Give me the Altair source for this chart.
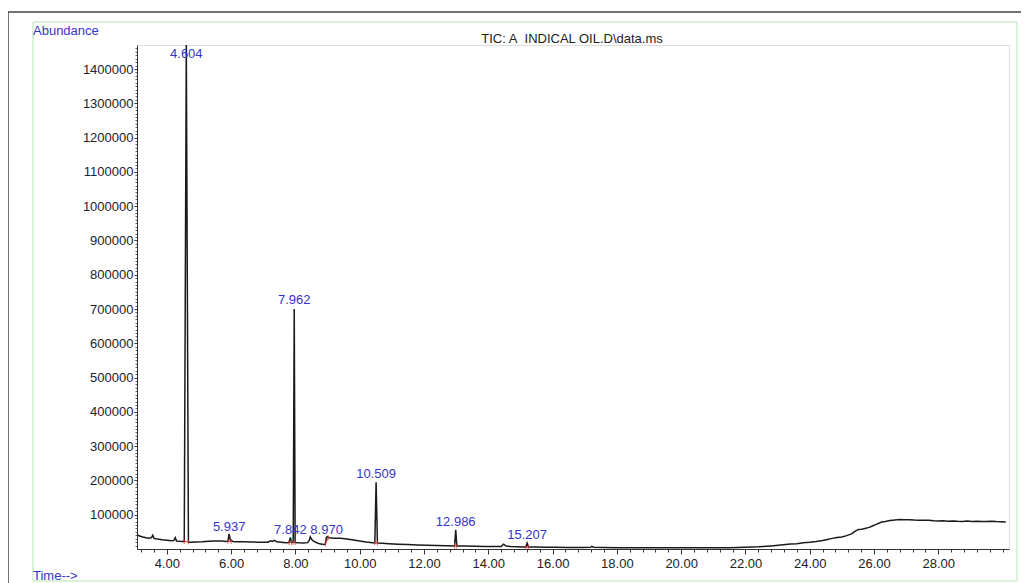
import altair as alt
import pandas as pd

# ---- chromatogram trace (retention time in min, abundance) ----
time_min = [3.07, 3.15, 3.25, 3.35, 3.45, 3.52, 3.56, 3.60, 3.70, 3.85, 4.00, 4.15, 4.22, 4.26, 4.30,
            4.40, 4.50, 4.54, 4.604, 4.67, 4.75, 4.90, 5.10, 5.30, 5.50, 5.70, 5.85, 5.90, 5.937, 5.97,
            6.05, 6.20, 6.40, 6.60, 6.80, 7.00, 7.15, 7.22, 7.28, 7.35, 7.42, 7.55, 7.70, 7.80, 7.842,
            7.88, 7.93, 7.962, 7.99, 8.10, 8.25, 8.38, 8.43, 8.46, 8.50, 8.56, 8.65, 8.75, 8.88, 8.93,
            8.96, 8.99, 9.05, 9.20, 9.40, 9.60, 9.80, 10.00, 10.20, 10.40, 10.47, 10.509, 10.55, 10.70,
            10.90, 11.20, 11.50, 11.80, 12.10, 12.40, 12.70, 12.95, 12.986, 13.02, 13.30, 13.60, 13.90,
            14.20, 14.40, 14.47, 14.55, 14.70, 14.90, 15.10, 15.17, 15.207, 15.25, 15.50, 15.80, 16.10,
            16.50, 16.90, 17.18, 17.22, 17.28, 17.60, 18.00, 18.50, 19.00, 19.50, 20.00, 20.50, 21.00,
            21.50, 22.00, 22.40, 22.80, 23.10, 23.40, 23.60, 23.80, 24.00, 24.20, 24.40, 24.55, 24.70,
            24.85, 25.00, 25.15, 25.30, 25.42, 25.52, 25.62, 25.72, 25.85, 25.95, 26.05, 26.15, 26.24,
            26.35, 26.50, 26.65, 26.80, 26.95, 27.10, 27.25, 27.40, 27.55, 27.70, 27.85, 28.00, 28.15,
            28.30, 28.45, 28.60, 28.75, 28.90, 29.05, 29.20, 29.35, 29.50, 29.65, 29.80, 29.95, 30.10]
abundance = [42000, 38000, 35000, 33000, 31500, 33000, 40000, 31000, 29000, 27000, 25500, 24000, 25000,
             33000, 23500, 22500, 22000, 22000, 1470000, 20500, 20000, 20500, 21000, 22500, 23500, 23000,
             22000, 23000, 44000, 27000, 22000, 21500, 21000, 20500, 20000, 19500, 20000, 24000, 22000,
             25000, 21000, 20000, 18500, 19000, 34000, 19000, 19500, 700000, 19000, 18000, 17500, 18500,
             26000, 35000, 28000, 23000, 19000, 15000, 13500, 14500, 33000, 36000, 33000, 31500, 31000,
             29000, 26000, 23000, 20500, 18500, 18000, 195000, 17500, 16500, 15500, 14000, 13000, 12000,
             11000, 10000, 9500, 9000, 56000, 9000, 8500, 8000, 7500, 7000, 7500, 14000, 9000, 7000, 6500,
             6000, 6000, 17000, 5500, 5500, 5000, 5000, 4500, 4500, 5000, 7500, 5000, 4500, 4000, 4000,
             3500, 3500, 3500, 3500, 3500, 4000, 5000, 6500, 9000, 11500, 14500, 15500, 18000, 19500,
             22000, 25000, 28000, 31000, 33500, 35000, 39000, 44000, 52000, 57000, 57500, 60000, 63000,
             67000, 71000, 75000, 79000, 80500, 83000, 84500, 86000, 85000, 85500, 84500, 84000, 83500,
             84000, 82500, 81500, 82500, 81000, 82000, 81000, 80500, 81500, 80500, 81000, 80000, 80500,
             81000, 80000, 79500, 78500]

# ---- labelled peaks ----
peak_rt = [4.604, 5.937, 7.842, 7.962, 8.970, 10.509, 12.986, 15.207]
peak_label = ["4.604", "5.937", "7.842", "7.962", "8.970", "10.509", "12.986", "15.207"]
label_abund = [1444000, 65000, 54000, 727000, 56000, 219500, 79600, 41700]

# ---- integration marks (red) ----
int_start = [4.54, 5.90, 7.80, 7.93, 8.93, 10.47, 12.95, 15.17]
int_end = [4.67, 6.00, 7.88, 7.99, 9.02, 10.55, 13.02, 15.25]
int_base_start = [22000, 22000, 19000, 19500, 14500, 18000, 9000, 6000]
int_base_end = [20500, 22000, 19000, 19000, 33000, 17500, 9000, 5500]

# ---- axis ticks ----
x_major = [4, 6, 8, 10, 12, 14, 16, 18, 20, 22, 24, 26, 28]
y_major = [100000, 200000, 300000, 400000, 500000, 600000, 700000, 800000, 900000,
           1000000, 1100000, 1200000, 1300000, 1400000]
x_minor = [round(3.2 + 0.4 * i, 2) for i in range(68)]
y_minor = [10000 * i for i in range(1, 147)]

title_text = "TIC: A\u00a0 INDICAL OIL.D\\data.ms"

FONT = "Liberation Sans"
BLUE = "#3535c8"

trace_df = pd.DataFrame({"t": time_min, "a": abundance})
peaks_df = pd.DataFrame({"rt": peak_rt, "label": peak_label, "ly": label_abund})
int_df = pd.DataFrame({"s": int_start, "e": int_end, "bs": int_base_start, "be": int_base_end})
one = pd.DataFrame({"k": [0]})

xscale = alt.Scale(domain=[3.07, 30.2], nice=False, zero=False)
yscale = alt.Scale(domain=[0, 1470000], nice=False, zero=True)

x_axis = alt.Axis(values=x_major, format=".2f", title=None, orient="bottom", tickSize=5,
                  labelFontSize=13, labelPadding=3, grid=False, domainColor="#333333",
                  tickColor="#333333", labelColor="#222222", labelFont=FONT, domainWidth=1)
y_axis = alt.Axis(values=y_major, format="d", title=None, orient="left", tickSize=3,
                  labelFontSize=13, labelPadding=1, grid=False, domainColor="#333333",
                  tickColor="#333333", labelColor="#222222", labelFont=FONT, domainWidth=1)
x_axis_minor = alt.Axis(values=x_minor, labels=False, title=None, orient="bottom", tickSize=3,
                        grid=False, domain=False, tickColor="#333333")
y_axis_minor = alt.Axis(values=y_minor, labels=False, title=None, orient="left", tickSize=2,
                        grid=False, domain=False, tickColor="#666666")

trace = alt.Chart(trace_df).mark_line(color="#1a1a1a", strokeWidth=1.5).encode(
    x=alt.X("t:Q", scale=xscale, axis=x_axis),
    y=alt.Y("a:Q", scale=yscale, axis=y_axis),
)

minor = alt.Chart(trace_df).mark_line(opacity=0).encode(
    x=alt.X("t:Q", scale=xscale, axis=x_axis_minor),
    y=alt.Y("a:Q", scale=yscale, axis=y_axis_minor),
)

int_line = alt.Chart(int_df).mark_rule(color="#e03030", strokeWidth=1).encode(
    x=alt.X("s:Q", axis=None), x2="e:Q", y=alt.Y("bs:Q", axis=None), y2="be:Q"
)
int_tick_s = alt.Chart(int_df).mark_tick(color="#e03030", orient="vertical", size=5, thickness=1).encode(
    x=alt.X("s:Q", axis=None), y=alt.Y("bs:Q", axis=None)
)
int_tick_e = alt.Chart(int_df).mark_tick(color="#e03030", orient="vertical", size=5, thickness=1).encode(
    x=alt.X("e:Q", axis=None), y=alt.Y("be:Q", axis=None)
)

labels = alt.Chart(peaks_df).mark_text(color=BLUE, fontSize=13, font=FONT, align="center",
                                       baseline="middle").encode(
    x=alt.X("rt:Q", axis=None), y=alt.Y("ly:Q", axis=None), text="label:N"
)

# decorative frames and captions (pixel positions relative to the plot area)
black_top = alt.Chart(one).mark_rule(color="#444444", strokeWidth=1.5).encode(
    x=alt.value(-129), x2=alt.value(884), y=alt.value(-33))
black_left = alt.Chart(one).mark_rule(color="#444444", strokeWidth=1.5).encode(
    x=alt.value(-129), y=alt.value(-33), y2=alt.value(540))
green_top = alt.Chart(one).mark_rule(color="#cdeecd", strokeWidth=1.5).encode(
    x=alt.value(-104), x2=alt.value(880), y=alt.value(-23))
green_bottom = alt.Chart(one).mark_rule(color="#cdeecd", strokeWidth=1.5).encode(
    x=alt.value(-104), x2=alt.value(880), y=alt.value(536))
green_left = alt.Chart(one).mark_rule(color="#cdeecd", strokeWidth=1.5).encode(
    x=alt.value(-104), y=alt.value(-23), y2=alt.value(536))
green_right = alt.Chart(one).mark_rule(color="#cdeecd", strokeWidth=1.5).encode(
    x=alt.value(880), y=alt.value(-23), y2=alt.value(536))

abund_txt = alt.Chart(one).mark_text(text="Abundance", color=BLUE, fontSize=13, font=FONT,
                                     align="left", baseline="middle").encode(
    x=alt.value(-104), y=alt.value(-14))
time_txt = alt.Chart(one).mark_text(text="Time-->", color=BLUE, fontSize=13, font=FONT,
                                    align="left", baseline="middle").encode(
    x=alt.value(-104), y=alt.value(531))
title_txt = alt.Chart(one).mark_text(text=title_text, color="#222222", fontSize=13, font=FONT,
                                     align="center", baseline="middle").encode(
    x=alt.value(435), y=alt.value(-6))

chart = alt.layer(
    green_top, green_bottom, green_left, green_right, black_top, black_left,
    minor, trace, int_line, int_tick_s, int_tick_e, labels, abund_txt, time_txt, title_txt,
).resolve_axis(x="independent", y="independent").properties(
    width=872, height=504,
    autosize=alt.AutoSizeParams(type="none"),
    padding={"left": 129, "top": 37, "right": 12, "bottom": 34},
).configure_view(stroke=None).configure(font=FONT, background="white")

chart.save("out.html", embed_options={"renderer": "svg", "actions": False})
